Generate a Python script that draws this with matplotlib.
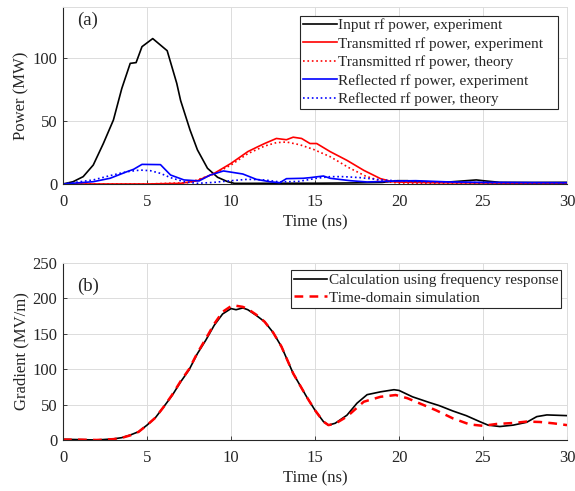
import matplotlib.pyplot as plt

# ============================================================
# DATA
# ============================================================

# (a) input rf power, experiment
t_in = [0, 0.6, 1.2, 1.8, 2.4, 3.0, 3.5, 4.0, 4.35, 4.7, 5.34, 6.2, 6.77, 7.0,
        7.56, 8.0, 8.6, 9.2, 9.8, 10.2, 11, 13, 15, 17, 19, 19.9, 20.5, 21,
        23, 24.6, 25, 26, 28, 30]
p_in = [0, 1.8, 5.8, 15, 32, 50.6, 75.6, 95.4, 96, 108.6, 115, 105.4, 79.6, 66,
        42.7, 27, 12.4, 5.3, 1.8, 0.5, 0.5, 0.6, 0.6, 0.8, 1.2, 2.6, 2.6, 1.8,
        1.6, 3.2, 2.6, 1.3, 1.2, 1.3]

# (a) transmitted rf power, experiment / theory
t_tr = [0, 5, 7.0, 8, 9, 10, 11, 11.6, 12, 12.7, 13.3, 13.7, 14.2, 14.7, 15.1,
        15.9, 16.9, 17.9, 18.9, 19.6, 20, 22, 25, 28, 30]
p_tr = [0, 0, 0.5, 2.6, 8.4, 16.3, 25.6, 29.5, 32, 36, 35, 37, 36, 32, 32,
        25.6, 18.7, 10.8, 4.2, 1.8, 1.5, 1.0, 0.8, 0.5, 0.4]
t_tr_th = [0, 5, 7.5, 9, 10, 11, 12, 12.7, 13.3, 14.1, 14.9, 15.9, 17, 18, 19,
           20, 22, 25, 30]
p_tr_th = [0, 0, 1, 7.9, 15, 24, 30, 32.7, 33.2, 31, 27.4, 21.6, 13, 6.3, 2.0,
           0.8, 0.5, 0.4, 0.3]

# (a) reflected rf power, experiment / theory
t_rf = [0, 1.8, 2.8, 3.8, 4.2, 4.7, 5.8, 6.4, 7.2, 8.1, 8.75, 9.55, 10.7, 11.1,
        11.5, 12.3, 12.9, 13.3, 14.3, 14.7, 15.5, 15.9, 17.1, 18.1, 20, 21, 23,
        25, 30]
p_rf = [0, 1.8, 4.5, 9.7, 11.6, 15.5, 15.3, 7.1, 3.2, 2.4, 7, 10.3, 7.9, 5.8,
        3.7, 1.8, 1.0, 4.2, 4.5, 5.0, 6.3, 4.5, 2.6, 1.6, 2.4, 2.6, 1.6,
        1.3, 1.0]
t_rf_th = [0, 1.8, 2.8, 3.8, 4.6, 5.2, 5.8, 6.4, 7.2, 8, 9, 10, 11, 12, 12.9,
           14, 15.1, 15.9, 16.7, 17.7, 19, 20, 22, 25, 30]
p_rf_th = [0, 3.2, 6.6, 9.7, 11, 10.5, 8.4, 5, 1.8, 0.5, 1.3, 2.6, 3.7, 3.2, 1.6,
           2.0, 4.5, 5.8, 5.8, 5.0, 3.2, 2.4, 1.6, 1.0, 0.8]

# (b) accelerating gradient
t_g = [0, 1, 2, 3, 3.5, 4, 4.5, 5, 5.5, 6, 6.5, 7, 7.5, 8, 8.5, 9, 9.5, 10,
       10.3, 10.7, 11, 11.5, 12, 12.5, 13, 13.7, 14.5, 15, 15.5, 15.8, 16.2,
       16.9, 17.5, 18.1, 18.9, 19.7, 20, 20.8, 21.8, 22.4, 23.2, 24, 24.8,
       25.3, 26, 26.8, 27.6, 28.2, 28.8, 30]
g_freq = [1, 0.5, 0, 1.5, 3.3, 7, 11.7, 21, 31.5, 47, 63, 82, 99, 122, 141,
          162, 178, 185.6, 184, 186.5, 184, 176, 167, 152, 132, 94, 61, 42, 26,
          21, 23.6, 35, 52, 64, 68, 71, 70, 61, 53, 48.5, 41, 34.4, 26,
          21, 19, 21, 25, 33, 35.4, 34.4]
t_gs = [0, 1, 2, 3, 3.5, 4, 4.5, 5, 5.5, 6, 6.5, 7, 7.5, 8, 8.5, 9, 9.5, 10,
        10.2, 10.7, 11, 11.5, 12, 12.5, 13, 13.7, 14.5, 15, 15.5, 15.8, 16.2,
        16.9, 17.9, 18.9, 19.8, 20.5, 21.3, 22.2, 23.2, 24.2, 25, 25.8, 26.8,
        27.6, 28.4, 29.2, 30]
g_sim = [0.5, 0.5, 0, 1.2, 3, 6.5, 11.5, 21, 31.5, 47, 64, 83, 100, 123, 143,
         164, 181, 189, 190, 188, 185, 177, 167, 152, 132, 94, 61, 42, 26,
         21, 23, 33, 54, 61, 63.5, 59, 51, 42, 30.6, 22, 20, 22.6, 24,
         26, 25.4, 23.5, 21]

# ============================================================
# PLOT
# ============================================================

plt.rcParams['font.family'] = 'Liberation Serif'
plt.rcParams['font.size'] = 12
for k in ('xtick.color', 'ytick.color', 'axes.labelcolor', 'text.color'):
    plt.rcParams[k] = '#262626'

fig = plt.figure(figsize=(5.75, 4.91), dpi=100)
ax1 = fig.add_axes([0.1096, 0.6253, 0.8765, 0.3605])
ax2 = fig.add_axes([0.1096, 0.1039, 0.8765, 0.3605])


def style_axes(ax):
    ax.grid(True, color='#dcdcdc', linewidth=0.7)
    ax.set_axisbelow(True)
    for s in ('top', 'right'):
        ax.spines[s].set_color('#dcdcdc')
        ax.spines[s].set_linewidth(0.7)
    for s in ('left', 'bottom'):
        ax.spines[s].set_color('#262626')
        ax.spines[s].set_linewidth(0.8)
    ax.tick_params(direction='in', length=3, width=0.6)
    ax.tick_params(axis='x', pad=7.5)
    ax.tick_params(axis='y', pad=4)
    ax.set_xlim(0, 30)
    ax.set_xticks([0, 5, 10, 15, 20, 25, 30])
    ax.set_xlabel("Time (ns)", labelpad=3)


def add_legend(ax, anchor, spacing):
    leg = ax.legend(loc='upper right', bbox_to_anchor=anchor, fontsize=11,
                    frameon=True, fancybox=False, framealpha=1, edgecolor='#262626',
                    borderpad=0.2, labelspacing=spacing, handlelength=2.2,
                    handletextpad=0.1, borderaxespad=0)
    leg.get_frame().set_linewidth(0.8)


lw = 1.2
ax1.plot(t_in, p_in, color='black', lw=lw, label="Input rf power, experiment")
ax1.plot(t_tr, p_tr, color='red', lw=lw, label="Transmitted rf power, experiment   ")
ax1.plot(t_tr_th, p_tr_th, color='red', lw=lw, ls=':', label="Transmitted rf power, theory")
ax1.plot(t_rf, p_rf, color='blue', lw=lw, label="Reflected rf power, experiment")
ax1.plot(t_rf_th, p_rf_th, color='blue', lw=lw, ls=':', label="Reflected rf power, theory")
style_axes(ax1)
ax1.set_ylim(0, 140)
ax1.set_yticks([0, 50, 100])
ax1.set_ylabel("Power (MW)", labelpad=2)
ax1.text(0.027, 0.925, "(a)", transform=ax1.transAxes, fontsize=13.5, va='center')
add_legend(ax1, (0.982, 0.951), 0.3)

ax2.plot(t_g, g_freq, color='black', lw=1.2, label="Calculation using frequency response")
ax2.plot(t_gs, g_sim, color='red', lw=1.8, ls=(0, (3.5, 2.5)), label="Time-domain simulation")
style_axes(ax2)
ax2.set_ylim(0, 250)
ax2.set_yticks([0, 50, 100, 150, 200, 250])
ax2.set_ylabel("Gradient (MV/m)", labelpad=2)
ax2.text(0.027, 0.87, "(b)", transform=ax2.transAxes, fontsize=13.5, va='center')
add_legend(ax2, (0.989, 0.960), 0.27)

fig.savefig("out.png", dpi=100)
